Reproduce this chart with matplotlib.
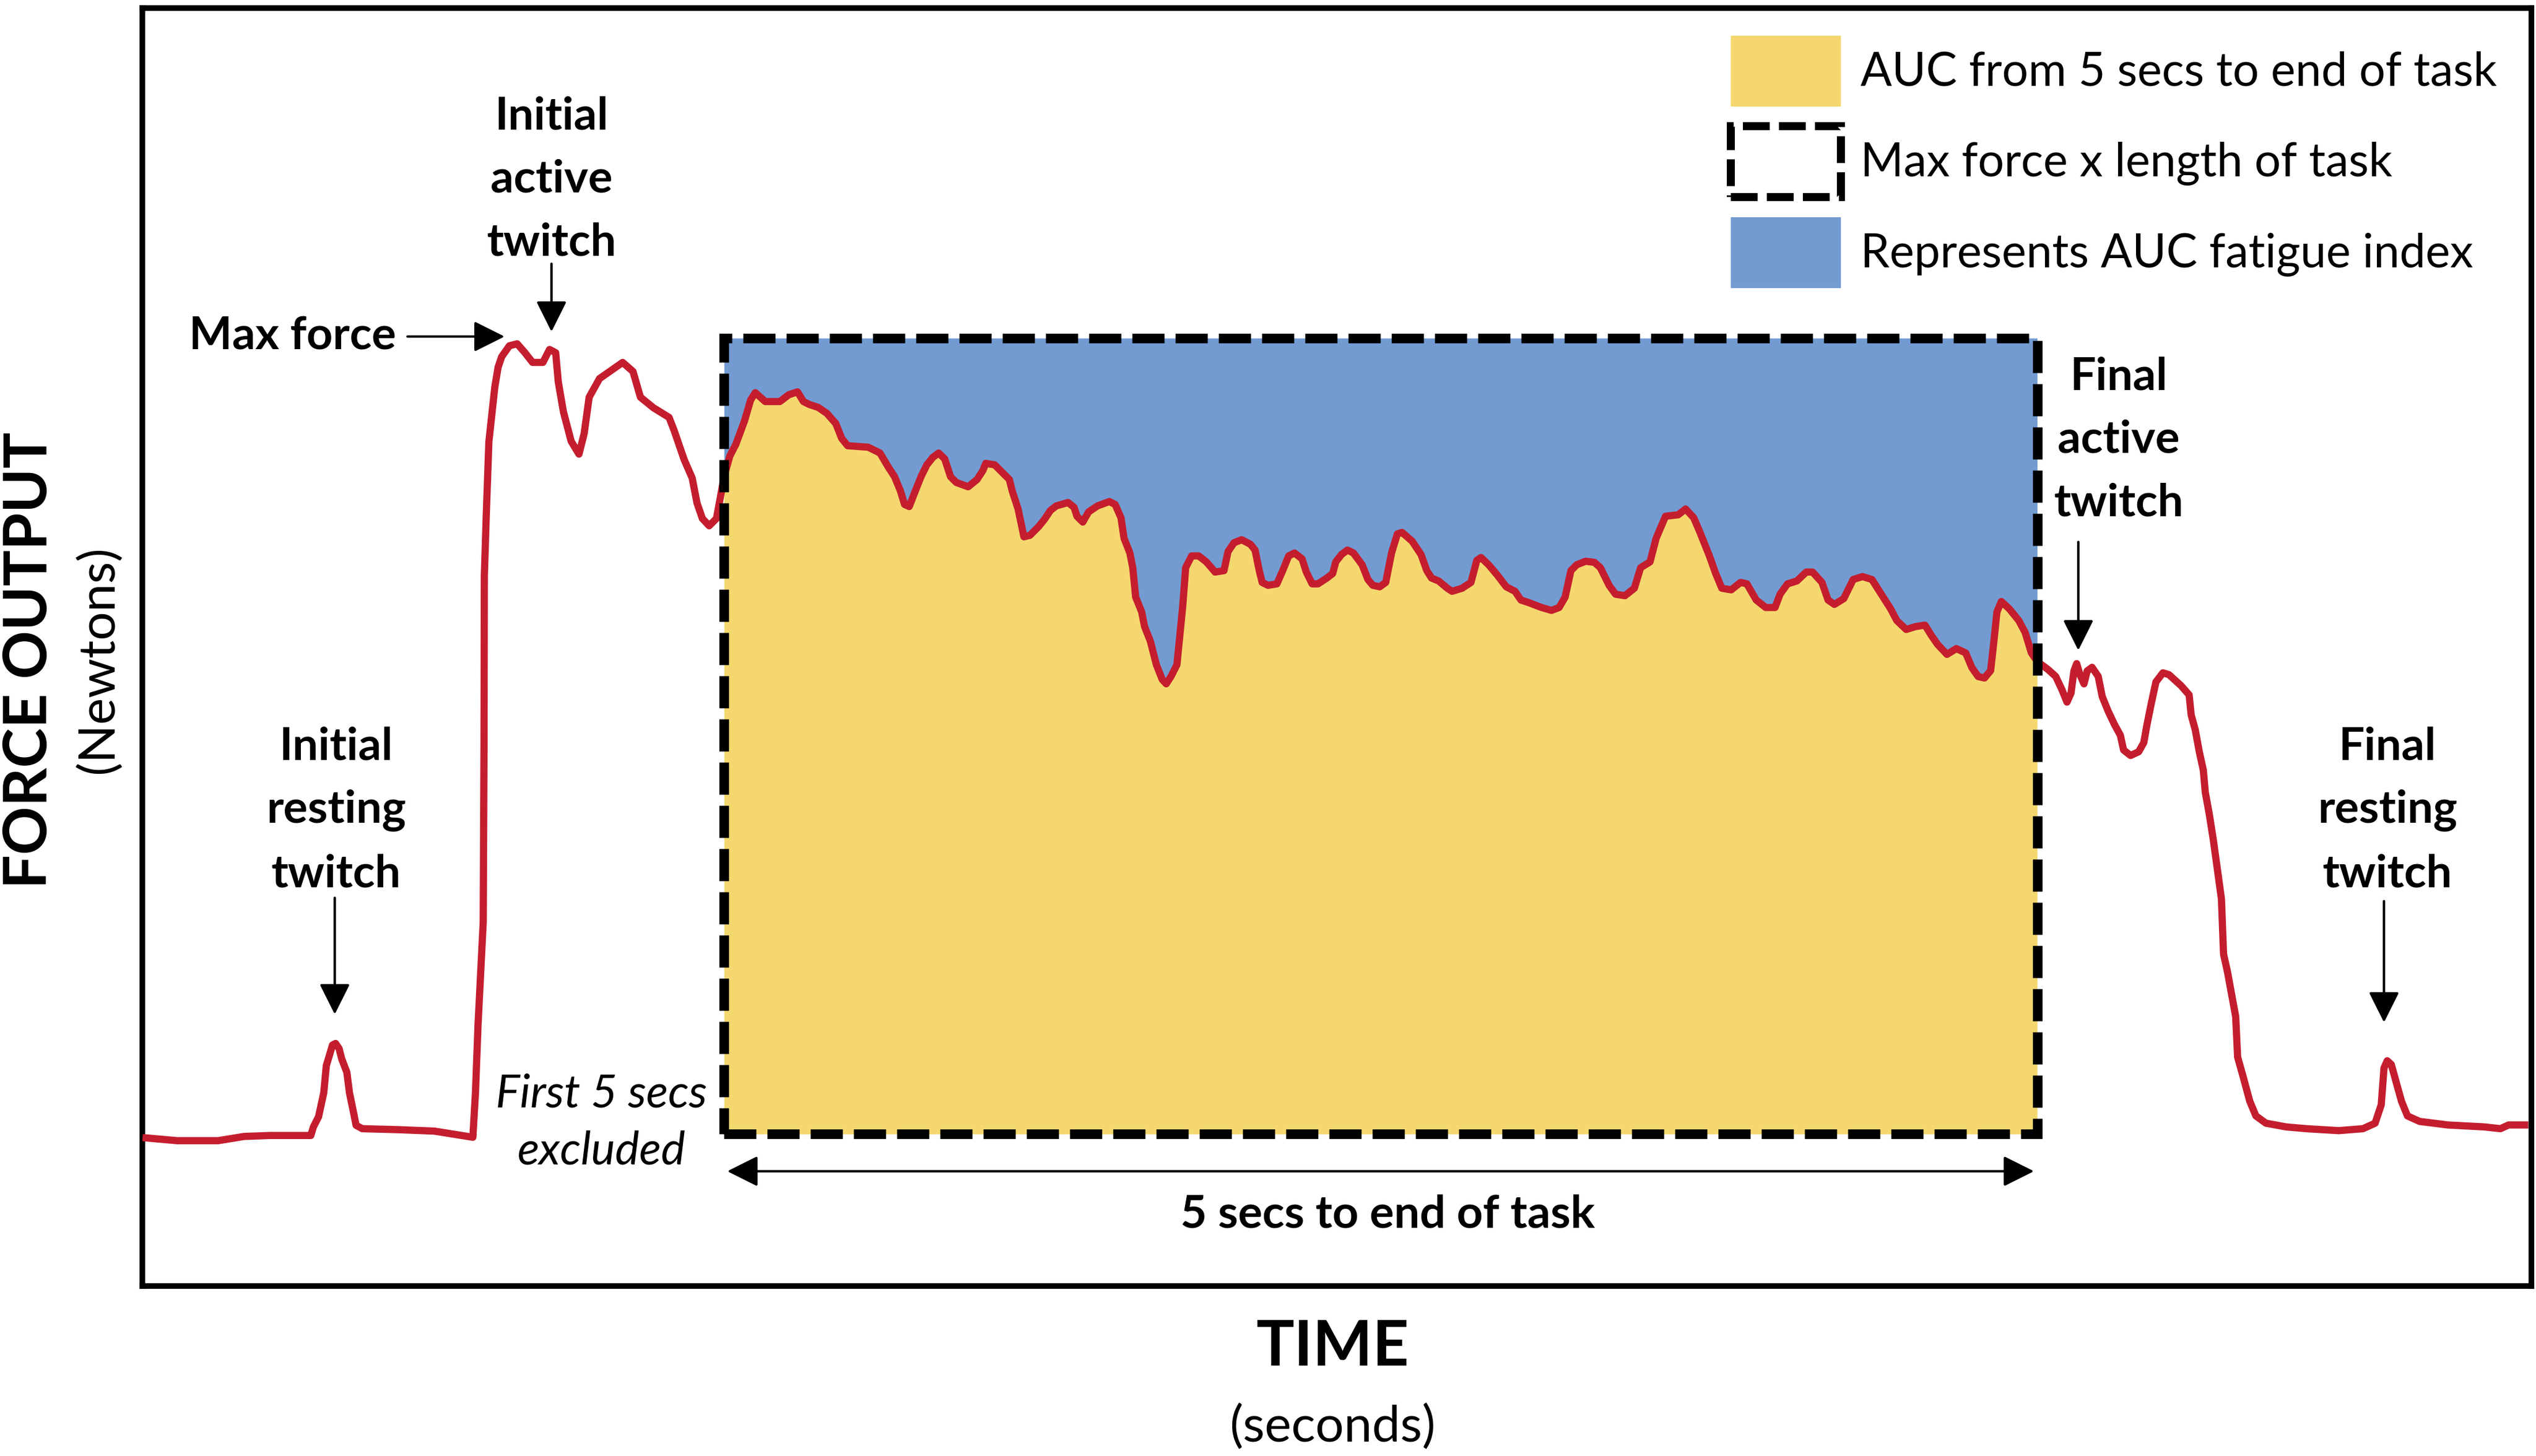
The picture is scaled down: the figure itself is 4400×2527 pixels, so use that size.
import matplotlib
matplotlib.use("Agg")
import matplotlib.pyplot as plt
from matplotlib.patches import Patch, Rectangle
import numpy as np

plt.rcParams["font.family"] = ["Lato", "DejaVu Sans"]

# ── data ────────────────────────────────────────────────────────────────
TIME = [
    2.4, 21.5, 47, 62.9, 78.8, 104.2, 105.8, 109, 112.2, 113.8, 116.3, 117.6, 119.5,
    121.7, 123.3, 126.5, 128.1, 130.3, 132.2, 136, 158.3, 180.6, 204.4, 206, 207.6,
    209.2, 210.8, 211.3, 211.5, 212.7, 214.3, 216.8, 218, 220, 222.2, 227, 231.8,
    236.6, 241.3, 247.7, 251.8, 255.6, 257.2, 260.4, 265.2, 270, 273.2, 276.3, 282.7,
    289, 297, 303.4, 308, 316, 325.7, 328.8, 335, 340, 343, 346.3, 350.5, 355, 357.5,
    359.7, 363.3, 367, 372.4, 376.1, 379, 385.2, 394.2, 399.7, 405.1, 408.8, 412.4,
    417.9, 423.3, 428.8, 432.4, 436.1, 448.8, 456.1, 461.5, 465.1, 468.8, 471.3, 474.2,
    477.9, 481.5, 485.1, 488.8, 492.4, 496.1, 499.7, 503.3, 510.6, 516.1, 519.7, 521.5,
    527, 532.4, 536.1, 537.9, 541.5, 545.1, 548.8, 554.2, 557.9, 561.5, 565.1, 572.4,
    576.1, 577.9, 581.5, 585.1, 590.6, 597.9, 601.5, 605.1, 607, 610.6, 612.4, 614.2,
    617.9, 619.7, 623.3, 627, 630.6, 633.1, 636, 639.7, 641.5, 643.3, 645.1, 648.8,
    653.1, 657.9, 663.3, 668.8, 671.3, 675, 679.7, 685.1, 688, 690.6, 692.4, 696,
    701.5, 705.1, 708.8, 712.4, 717.1, 719.7, 723.3, 726.9, 732.4, 736, 737.9, 741.5,
    745.1, 748.8, 754.2, 757.8, 760.8, 765.1, 768.8, 772.4, 776, 778.9, 785.1, 790.6,
    794.2, 797.1, 801.5, 806.9, 809.8, 816, 821.5, 825.1, 827.7, 832.4, 837.8, 843.3,
    848.7, 852.4, 857.8, 865.1, 871.3, 876, 879.7, 883.3, 886.9, 892.4, 897.8, 901.5,
    906.9, 910.9, 916.7, 922.5, 926.4, 932.2, 936, 941.8, 949.6, 954.2, 959.2, 963.1,
    968.9, 972.8, 976.6, 982.4, 988.2, 992.1, 997.9, 1003.7, 1009.5, 1012.6, 1017.2,
    1023, 1028.8, 1032.7, 1038.5, 1042.3, 1046.2, 1052, 1057.8, 1063.6, 1069.4, 1075.2,
    1081, 1084.8, 1090.6, 1096.4, 1102.2, 1106.1, 1109.9, 1115.8, 1121.6, 1127.4,
    1131.2, 1135.1, 1139, 1142.8, 1144.8, 1146.7, 1149.4, 1154.4, 1160.2, 1164.1, 1168,
    1171.8, 1178, 1183, 1186.8, 1190, 1192.5, 1194.3, 1196, 1198, 1200.5, 1202.5,
    1205.5, 1209.3, 1211.8, 1215.5, 1219.3, 1223, 1225, 1229.3, 1234.3, 1237.5, 1239.3,
    1241.8, 1245, 1249.3, 1253, 1260.5, 1265.5, 1266.8, 1269.3, 1271.8, 1274.3, 1275.5,
    1278, 1280.5, 1283, 1285.5, 1286.8, 1289.3, 1291.8, 1294.3, 1295.5, 1299.3, 1303,
    1306.8, 1313, 1325.5, 1338, 1358, 1373, 1380.5, 1384.3, 1386, 1388, 1390.5, 1393,
    1396.8, 1400.5, 1408, 1425.5, 1448, 1458, 1463, 1473,
]
FORCE = [
    -0.4, -2.1, -2.1, 0.5, 1.1, 1.1, 6.4, 12.7, 27.5, 44.3, 52.7, 57, 58,
    54.8, 48.5, 40.1, 27.5, 16.9, 7.4, 5.3, 4.7, 3.8, 0, 27.5, 69.6,
    101.2, 133, 243, 347, 385, 430, 453, 464, 476, 482.5, 489.3, 490.5,
    485, 479, 479, 487, 485, 467, 448.4, 430.2, 422.3, 435, 457.5, 469,
    473.4, 479, 473.4, 457.5, 451, 445, 437, 419, 407.5, 392, 382.5, 378, 382.5, 396,
    408.4, 421.2, 428.4, 443, 455.7, 460.3, 454.8, 454.8, 459, 460.8, 454.8, 453,
    451.2, 447.5, 441.2, 432.1, 427.5, 426.6, 423, 413.9, 408.4, 399.4, 391.2, 389.9,
    399.4, 408.4, 415.7, 420.3, 423, 419.4, 408.4, 404.8, 402.1, 406.6, 412.1, 416.6,
    415.7, 410.3, 406.6, 399.4, 388.4, 371.2, 372.1, 377.5, 382.1, 387.5, 390.3, 392.4,
    389.4, 383.9, 380.3, 386.6, 390.3, 393, 391.2, 383, 370.3, 361.2, 352.1, 333.9,
    324.8, 315.7, 306.6, 292.1, 283, 280.3, 284.8, 292.1, 310.3, 328.5, 352.1, 359.4,
    359.4, 355.7, 349.4, 350.3, 362.1, 367.5, 369.4, 366.6, 363, 350.3, 343, 341.2,
    342.1, 350.3, 359.4, 361.2, 357.5, 349.4, 342.1, 342.1, 345.7, 348.5, 355.7, 360.3,
    363, 361.2, 353.9, 344.8, 341.2, 340.3, 343, 361.2, 373, 373.9, 368.5, 360.3,
    350.3, 345.7, 343.9, 339.4, 337.5, 339.4, 343, 356.6, 358.4, 353.9, 347.5, 340.3,
    337.5, 332.1, 330.3, 327.5, 325.7, 327.5, 333.9, 350.3, 353.9, 356.1, 355.4, 352.1,
    341.2, 335.7, 334.8, 339.4, 352.1, 355.7, 370.3, 383.9, 384.8, 388.4, 383, 373.9,
    359.4, 348.5, 339.4, 338.4, 343, 342.1, 332.1, 327.5, 327.5, 335.7, 342.1,
    343.9, 349.4, 349.4, 343, 332.1, 329.4, 333, 344.8, 346.6, 344.8, 335.7,
    326.6, 319.4, 313.9, 315.7, 316.6, 310.3, 304.8, 298.5, 302.1, 299.4,
    290.3, 284.8, 283.9, 288.5, 306.6, 324.8, 331.2, 326.6, 319.4, 312.1, 299.4,
    293.9, 289.4, 284.9, 276.9, 269, 274.6, 288.3, 292.8, 286, 280.3, 288.3,
    290.5, 284.9, 272.4, 263.3, 255.3, 248.5, 239.4, 236, 238.3, 244, 254.2,
    266.7, 281.5, 287.1, 286, 279.2, 273.5, 261, 251.9, 238.3, 226.9, 213.3,
    199.6, 183.7, 165.5, 147.3, 113.2, 101.9, 88.2, 74.6, 49.6, 36, 22.3,
    13.2, 8.7, 6.4, 5.3, 4.1, 5.3, 8.7, 20.1, 42.8, 47.3, 45, 36,
    22.3, 13.2, 9.8, 7.6, 6.4, 5.3, 7.6, 7.6,
]

TASK_START = 359.7   # 5 secs
TASK_END = 1171.6    # end of task
MAX_FORCE = 494
BOX_FLOOR = 2

LEGEND_LABELS = [
    "AUC from 5 secs to end of task",
    "Max force x length of task",
    "Represents AUC fatigue index",
]

YELLOW = "#F4D86F"
BLUE = "#739BD2"
RED = "#C41E2E"
DASH = (0, (3.35, 1.15))

FS = 57


def arrow(ax, start, end, style="-|>"):
    ax.annotate(
        "", xy=end, xytext=start,
        arrowprops=dict(arrowstyle=f"{style},head_length=1,head_width=0.5",
                        lw=3, color="black", mutation_scale=33,
                        shrinkA=0, shrinkB=0),
        annotation_clip=False,
    )


def main():
    t = np.asarray(TIME, dtype=float)
    f = np.asarray(FORCE, dtype=float)

    fig = plt.figure(figsize=(44, 25.27), dpi=100)
    ax = fig.add_axes([0.0561, 0.1167, 0.9420, 0.8777])
    ax.set_xlim(0, 1477)
    ax.set_ylim(-92, 698)
    ax.set_xticks([])
    ax.set_yticks([])
    for sp in ax.spines.values():
        sp.set_linewidth(7)

    # task window, with the trace cut at the window edges
    inside = (t > TASK_START) & (t < TASK_END)
    tw = np.concatenate([[TASK_START], t[inside], [TASK_END]])
    fw = np.concatenate([[np.interp(TASK_START, t, f)], f[inside],
                         [np.interp(TASK_END, t, f)]])
    ax.fill_between(tw, BOX_FLOOR, fw, color=YELLOW, lw=0, zorder=1)
    ax.fill_between(tw, fw, MAX_FORCE, color=BLUE, lw=0, zorder=1)

    ax.plot(t, f, color=RED, lw=9, solid_joinstyle="round", zorder=3)

    ax.add_patch(Rectangle((TASK_START, BOX_FLOOR), TASK_END - TASK_START,
                           MAX_FORCE - BOX_FLOOR, fill=False, ec="black",
                           lw=12, ls=DASH, zorder=4))

    # annotations
    bold = dict(fontsize=FS, fontweight="bold", ha="center", va="center",
                linespacing=1.65)
    ax.text(157, 495, "Max force", fontsize=FS, fontweight="bold",
            ha="right", va="center")
    arrow(ax, (164, 495), (224, 495))

    ax.text(253, 592, "Initial\nactive\ntwitch", **bold)
    arrow(ax, (253, 540), (253, 498))

    ax.text(120, 202, "Initial\nresting\ntwitch", **bold)
    arrow(ax, (119, 148), (119, 76))

    ax.text(1222, 431, "Final\nactive\ntwitch", **bold)
    arrow(ax, (1197, 368), (1197, 301))

    ax.text(1388, 202, "Final\nresting\ntwitch", **bold)
    arrow(ax, (1386, 146), (1386, 71))

    ax.text(284, 9, "First 5 secs\nexcluded", fontsize=FS, style="italic",
            ha="center", va="center", linespacing=1.45)

    arrow(ax, (TASK_START + 2, -21), (TASK_END - 2, -21), style="<|-|>")
    ax.text(770, -48, "5 secs to end of task", fontsize=FS, fontweight="bold",
            ha="center", va="center")

    # legend
    handles = [
        Patch(facecolor=YELLOW, edgecolor="none"),
        Patch(facecolor="white", edgecolor="black", lw=10, ls=DASH),
        Patch(facecolor=BLUE, edgecolor="none"),
    ]
    fig.legend(handles, LEGEND_LABELS, loc="upper left",
               bbox_to_anchor=(1070 / 1568, 1 - 22 / 900),
               frameon=False, fontsize=58, borderpad=0, borderaxespad=0,
               handlelength=2.38, handleheight=1.97, labelspacing=0.43,
               handletextpad=0.42)

    # axis titles
    fig.text(0.0115, 0.5467, "FORCE OUTPUT", fontsize=75, fontweight="bold",
             rotation=90, ha="center", va="center")
    fig.text(0.0389, 0.5467, "(Newtons)", fontsize=63, rotation=90,
             ha="center", va="center")
    fig.text(0.5255, 0.0744, "TIME", fontsize=79, fontweight="bold",
             ha="center", va="center")
    fig.text(0.5255, 0.020, "(seconds)", fontsize=63, ha="center", va="center")

    fig.savefig("out.png", dpi=100)
    plt.close(fig)


if __name__ == "__main__":
    main()
